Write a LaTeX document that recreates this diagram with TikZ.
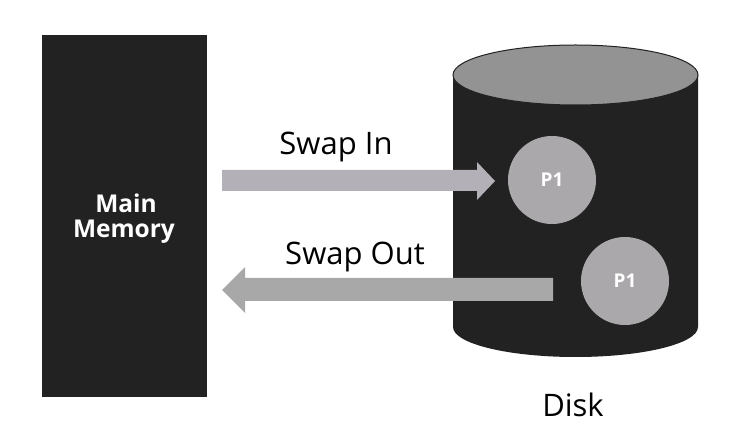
\documentclass[tikz,border=0pt]{standalone}
\usepackage{fontspec}
\setmainfont{Open Sans}
\begin{document}
\begin{tikzpicture}[x=1pt,y=-1pt,
  lbl/.style={anchor=base,inner sep=0pt,font=\fontsize{31}{31}\selectfont,text=black},
  bold/.style={anchor=base,inner sep=0pt,text=white,font=\bfseries\fontsize{24.5}{24.5}\selectfont},
  proc/.style={circle,fill=circgray,minimum size=88pt,inner sep=0pt,text=white,font=\bfseries\fontsize{19}{19}\selectfont}]
\definecolor{darkbg}{HTML}{222222}
\definecolor{topgray}{HTML}{939393}
\definecolor{circgray}{HTML}{ABA8AC}
\definecolor{ingray}{HTML}{B3B0B7}
\definecolor{outgray}{HTML}{A8A8A8}
\useasboundingbox (0,0) rectangle (734,438);
\fill[white] (0,0) rectangle (734,438);
% main memory
\fill[darkbg] (42,35) rectangle (207,397);
\node[bold] (main) at (126,213) {Main};
\node[bold] (mem) at (124,238) {Memory};
% disk cylinder
\fill[darkbg] (453,75) -- (453,327) arc[start angle=180,end angle=0,x radius=122.5,y radius=30] -- (698,75) -- cycle;
\fill[topgray,draw=darkbg,line width=1pt] (575.5,75) ellipse[x radius=122.5,y radius=30];
\node[proc] (p1a) at (552,180) {P1};
\node[proc] (p1b) at (625,281) {P1};
% arrows
\fill[ingray] (222,170) -- (477,170) -- (477,162) -- (495,181) -- (477,200) -- (477,191) -- (222,191) -- cycle;
\fill[outgray] (553,278) -- (245,278) -- (245,267) -- (222,290) -- (245,313) -- (245,301) -- (553,301) -- cycle;
% labels
\node[lbl] (swin) at (336,155) {Swap In};
\node[lbl] (swout) at (355,265) {Swap Out};
\node[lbl] (disk) at (573,417) {Disk};
\end{tikzpicture}
\end{document}
